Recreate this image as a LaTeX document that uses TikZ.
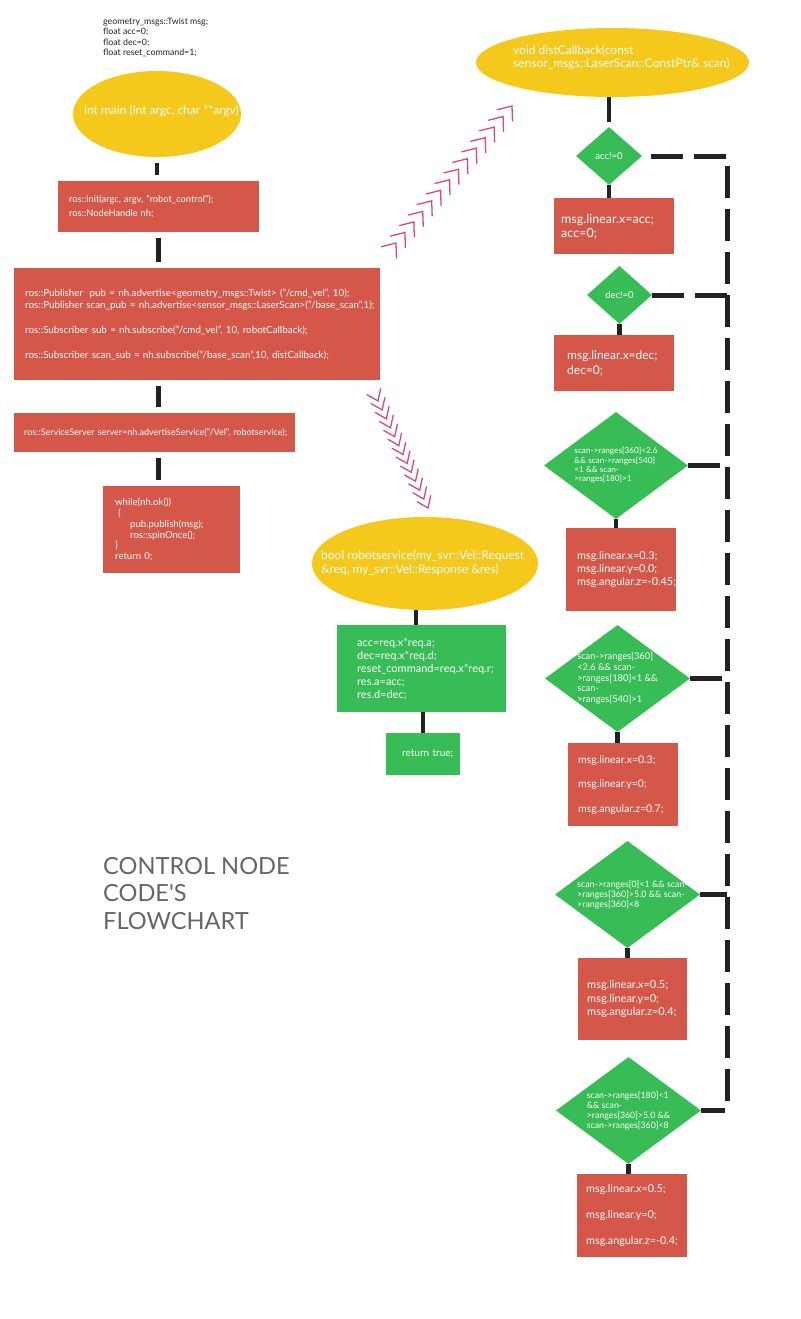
\documentclass[tikz,border=0pt]{standalone}
\usepackage{fontspec}
\setmainfont{Lato}
\usetikzlibrary{shapes.geometric,calc}

\definecolor{capyellow}{RGB}{245,200,28}
\definecolor{boxred}{RGB}{213,87,74}
\definecolor{decgreen}{RGB}{56,188,86}
\definecolor{barblack}{RGB}{34,34,34}
\definecolor{chevpink}{RGB}{218,72,122}
\definecolor{titlegray}{RGB}{102,102,102}

\newcommand{\fsz}[2]{\fontsize{#1}{#2}\selectfont\hyphenpenalty=10000\exhyphenpenalty=10000\relax}

\tikzset{
  terminal/.style={ellipse, fill=capyellow, inner sep=0pt},
  decision/.style={diamond, fill=decgreen, inner sep=0pt},
  redbox/.style={fill=boxred, text=white, align=left, anchor=north west, inner ysep=0pt},
  greenbox/.style={redbox, fill=decgreen},
  wtxt/.style={text=white, align=left, inner sep=0pt},
  stub/.style={draw=barblack, line width=4.5pt},
  gapstub/.style={stub, shorten <=6pt, shorten >=6pt},
  rail/.style={draw=barblack, line width=5pt, dash pattern=on 32pt off 11pt},
  chev/.style={draw=chevpink, line width=1.3pt, line cap=round},
}

\begin{document}
\begin{tikzpicture}[x=1pt,y=-1pt,font=\fsz{9}{12}]
  \useasboundingbox (0,0) rectangle (800,1319);

  % globals
  \node[align=left, inner sep=0pt, anchor=west, text=barblack, font=\fsz{8.8}{10.3}] (globals) at (103,37.5)
    {geometry\_msgs::Twist msg;\\float acc=0;\\float dec=0;\\float reset\_command=1;};

  % main
  \node[terminal, minimum width=168, minimum height=86] (main) at (157,114) {};
  \node[wtxt, anchor=west, font=\fsz{12}{13}] (maintxt) at (84,111) {int main (int argc, char **argv)};
  \node[redbox, text width=179pt, inner xsep=11pt, minimum height=51pt, font=\fsz{9.3}{14}] (init) at (58,181)
    {ros::init(argc, argv, "robot\_control");\\ros::NodeHandle nh;};
  \node[redbox, text width=344pt, inner xsep=11pt, minimum height=112pt, font=\fsz{9.8}{12.3}] (pubs) at (14,268)
    {\mbox{ros::Publisher~ pub = nh.advertise<geometry\_msgs::Twist> ("/cmd\_vel", 10);}\\
     \mbox{ros::Publisher scan\_pub = nh.advertise<sensor\_msgs::LaserScan>("/base\_scan",1);}\\[12.3pt]
     \mbox{ros::Subscriber sub = nh.subscribe("/cmd\_vel", 10, robotCallback);}\\[12.3pt]
     \mbox{ros::Subscriber scan\_sub = nh.subscribe("/base\_scan",10, distCallback);}};
  \node[redbox, text width=261pt, inner xsep=10pt, minimum height=39pt, font=\fsz{9}{10}] (srv) at (14,413)
    {\mbox{ros::ServiceServer server=nh.advertiseService("/Vel", robotservice);}};
  \node[redbox, text width=113pt, inner xsep=12pt, minimum height=87pt, font=\fsz{9.6}{10.8}] (loop) at (103,486)
    {while(nh.ok())\\\hspace*{3pt}\{\\\hspace*{15pt}pub.publish(msg);\\\hspace*{15pt}ros::spinOnce();\\\}\\return 0;};

  \draw[gapstub] (main.south) -- (init.north -| main.south);
  \draw[gapstub] (init.south) -- (pubs.north -| init.south);
  \draw[gapstub] (pubs.south -| init.south) -- (srv.north -| init.south);
  \draw[gapstub] (srv.south -| init.south) -- (loop.north -| init.south);

  % distCallback
  \node[terminal, minimum width=273, minimum height=69] (dcb) at (612.5,62.5) {};
  \node[wtxt, anchor=west, font=\fsz{12}{13}] (dcbtxt) at (513,57.5)
    {void distCallback(const\\sensor\_msgs::LaserScan::ConstPtr\& scan)};

  \node[decision, minimum width=66, minimum height=58] (acc) at (609,156) {};
  \node[wtxt, font=\fsz{9.5}{10}] (acctxt) at (acc) {acc!=0};
  \node[redbox, text width=106pt, inner xsep=7pt, minimum height=56pt, text depth=15pt, font=\fsz{12.5}{14.5}] (accbox) at (554,198)
    {msg.linear.x=acc;\\acc=0;};

  \node[decision, minimum width=65, minimum height=58] (dec) at (619.5,295) {};
  \node[wtxt, font=\fsz{9.5}{10}] (dectxt) at (dec) {dec!=0};
  \node[redbox, text width=94pt, inner xsep=13pt, minimum height=56pt, font=\fsz{12}{14.5}] (decbox) at (554,335)
    {msg.linear.x=dec;\\dec=0;};

  \node[decision, minimum width=144, minimum height=107] (d3) at (616,465.5) {};
  \node[wtxt, font=\fsz{8.2}{9.3}] (d3txt) at (d3)
    {scan->ranges[360]<2.6\\\&\& scan->ranges[540]\\<1 \&\& scan-\\>ranges[180]>1};
  \node[redbox, text width=88pt, inner xsep=11pt, minimum height=83pt, font=\fsz{10.9}{13}] (box3) at (566,528)
    {msg.linear.x=0.3;\\msg.linear.y=0.0;\\msg.angular.z=-0.45;};

  \node[decision, minimum width=145, minimum height=107] (d4) at (617.5,678.5) {};
  \node[wtxt, font=\fsz{9.3}{10.75}] (d4txt) at (d4)
    {scan->ranges[360]\\<2.6 \&\& scan-\\>ranges[180]<1 \&\&\\scan-\\>ranges[540]>1};
  \node[redbox, text width=90pt, inner xsep=10pt, minimum height=83pt, font=\fsz{10.5}{12.3}] (box4) at (568,743)
    {msg.linear.x=0.3;\\[12.3pt]msg.linear.y=0;\\[12.3pt]msg.angular.z=0.7;};

  \node[decision, minimum width=145, minimum height=107] (d5) at (627.5,894.5) {};
  \node[wtxt, font=\fsz{8.9}{10}, xshift=5pt] (d5txt) at (d5)
    {scan->ranges[0]<1 \&\& scan-\\>ranges[360]>5.0 \&\& scan-\\>ranges[360]<8};
  \node[redbox, text width=91pt, inner xsep=9pt, minimum height=82pt, font=\fsz{11}{13.5}] (box5) at (578,958)
    {msg.linear.x=0.5;\\msg.linear.y=0;\\msg.angular.z=0.4;};

  \node[decision, minimum width=145, minimum height=107] (d6) at (628.5,1110.5) {};
  \node[wtxt, font=\fsz{8.8}{10}] (d6txt) at (d6)
    {scan->ranges[180]<1\\\&\& scan-\\>ranges[360]>5.0 \&\&\\scan->ranges[360]<8};
  \node[redbox, text width=92pt, inner xsep=9pt, minimum height=83pt, font=\fsz{10.8}{13}] (box6) at (577,1174)
    {msg.linear.x=0.5;\\[13pt]msg.linear.y=0;\\[13pt]msg.angular.z=-0.4;};

  \draw[stub, shorten >=5pt] (acc.north |- dcb.south) -- (acc.north);
  \foreach \d/\b in {acc/accbox, dec/decbox, d3/box3, d4/box4, d5/box5, d6/box6}
    \draw[stub] (\d.south) -- (\d.south |- \b.north);

  % dashed return rail
  \coordinate (railx) at (727,0);
  \draw[rail, shorten <=9pt] (acc.east) -- (acc.east -| railx) -- (d6.east -| railx) -- (d6.east);
  \foreach \d in {dec,d3,d4,d5}
    \draw[rail] (\d.east) -- (\d.east -| railx);

  % robotservice
  \node[terminal, minimum width=226, minimum height=93] (rsv) at (425,563.5) {};
  \node[wtxt, anchor=west, font=\fsz{12}{14}] (rsvtxt) at (321,563)
    {bool robotservice(my\_svr::Vel::Request\\\&req, my\_svr::Vel::Response \&res)};
  \node[greenbox, text width=129pt, inner xsep=20pt, minimum height=87pt, font=\fsz{11}{13}] (body) at (337,625)
    {acc=req.x*req.a;\\dec=req.x*req.d;\\reset\_command=req.x*req.r;\\res.a=acc;\\res.d=dec;};
  \node[greenbox, text width=42pt, inner xsep=16pt, minimum height=42pt, font=\fsz{10}{12}] (ret) at (386,733)
    {return~true;};

  \draw[stub] ([xshift=-9pt]rsv.south) -- ([xshift=-9pt]rsv.south |- body.north);
  \draw[stub] (ret.north |- body.south) -- (ret.north);

  % pink chevron chains
  \coordinate (zz1s) at (396,243);
  \coordinate (zz1e) at (512,106);
  \foreach \i in {0,...,13}
    \draw[chev, shift={($(zz1s)!\i/13!(zz1e)$)}, rotate=53] (-11.7,9.4) -- (0,0) -- (-11.7,-9.4);
  \coordinate (zz2s) at (378,401);
  \coordinate (zz2e) at (428,508);
  \foreach \i in {0,...,12}
    \draw[chev, shift={($(zz2s)!\i/12!(zz2e)$)}, rotate=-66] (-10.1,7.4) -- (0,0) -- (-10.1,-7.4);

  % title
  \node[anchor=west, align=left, inner sep=0pt, text=titlegray, font=\fsz{23.6}{27.5}] (title) at (103,893.5)
    {CONTROL NODE\\CODE\textquotesingle S\\FLOWCHART};
\end{tikzpicture}
\end{document}
